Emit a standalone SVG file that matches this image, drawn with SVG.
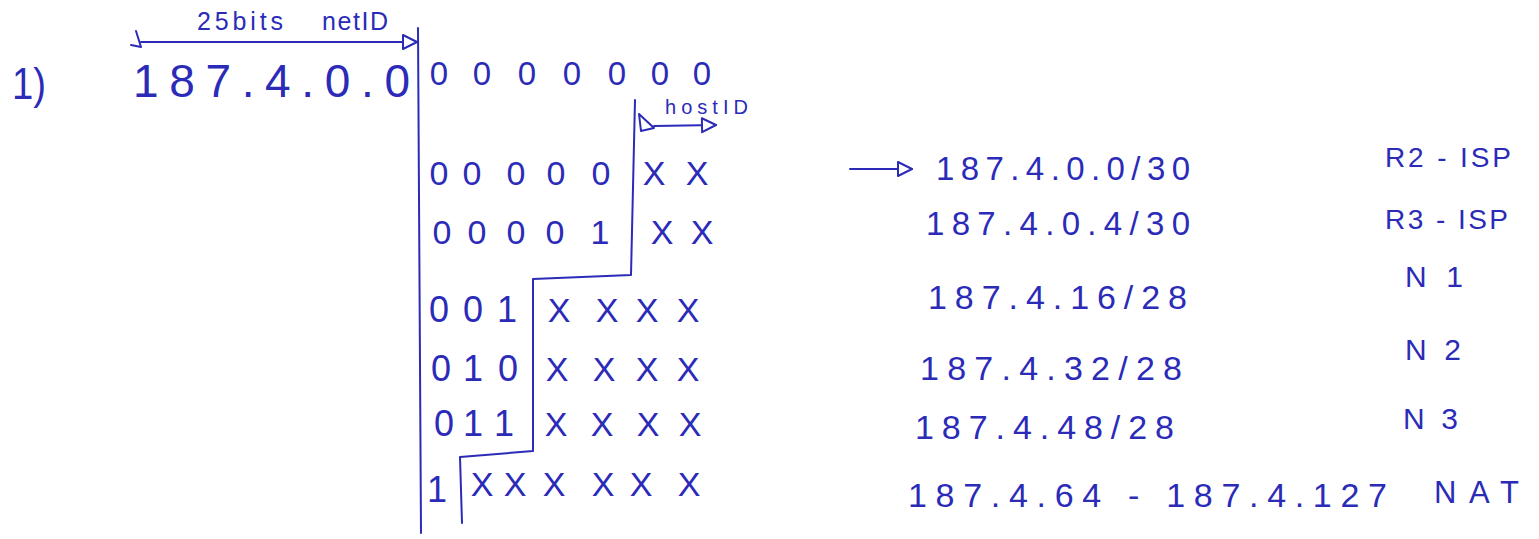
<svg xmlns="http://www.w3.org/2000/svg" width="1539" height="539" viewBox="0 0 1539 539">
<style>
.t{fill:#2b2bb8;font-family:"Liberation Sans",Arial,sans-serif}
.m{text-anchor:middle}
.ln{stroke:#2b2bb8;stroke-width:2;fill:none;stroke-linecap:round;stroke-linejoin:round}
</style>
<defs>
<marker id="tri" markerUnits="userSpaceOnUse" markerWidth="18" markerHeight="18" refX="15" refY="8" orient="auto" overflow="visible">
<path d="M1,1 L15,8 L1,15 Z" fill="#fff" stroke="#2b2bb8" stroke-width="2" stroke-linejoin="round"/>
</marker>
</defs>
<rect width="1539" height="539" fill="#fff"/>

<g id="label-1">
<text class="t" x="12" y="99" font-size="44" textLength="34" lengthAdjust="spacingAndGlyphs">1)</text>
</g>

<g id="netid-label">
<text class="t" x="197" y="30" font-size="25" textLength="86" lengthAdjust="spacing">25bits</text>
<text class="t" x="322" y="30" font-size="25" textLength="66" lengthAdjust="spacing">netID</text>
</g>

<g id="address">
<text class="t" x="133" y="97" font-size="46" textLength="277" lengthAdjust="spacing">187.4.0.0</text>
<text class="t m" x="439 482 527 572 617 660 702" y="85" font-size="33">0000000</text>
</g>

<g id="hostid-label">
<text class="t" x="665" y="114" font-size="20" textLength="83" lengthAdjust="spacing">hostID</text>
</g>

<g id="bit-table">
<text class="t m" x="439 472 516 556 601" y="185" font-size="34">00000</text>
<text class="t m" x="654 697" y="185" font-size="34">XX</text>
<text class="t m" x="442 477 516 555 600" y="244" font-size="34">00001</text>
<text class="t m" x="662 702" y="244" font-size="34">XX</text>
<text class="t m" x="439 473 507" y="322" font-size="36">001</text>
<text class="t m" x="559 607 647 688" y="322" font-size="34">XXXX</text>
<text class="t m" x="441 473 508" y="381" font-size="36">010</text>
<text class="t m" x="557 604 647 688" y="381" font-size="34">XXXX</text>
<text class="t m" x="444 473 504" y="436" font-size="36">011</text>
<text class="t m" x="556 602 648 690" y="436" font-size="34">XXXX</text>
<text class="t m" x="437" y="502" font-size="36">1</text>
<text class="t m" x="482 515 554 603 641 689" y="496" font-size="34">XXXXXX</text>
</g>

<g id="subnets">
<text class="t" x="936" y="180" font-size="33" textLength="254" lengthAdjust="spacing">187.4.0.0/30</text>
<text class="t" x="926" y="235" font-size="33" textLength="264" lengthAdjust="spacing">187.4.0.4/30</text>
<text class="t" x="928" y="309" font-size="34" textLength="259" lengthAdjust="spacing">187.4.16/28</text>
<text class="t" x="920" y="380" font-size="34" textLength="262" lengthAdjust="spacing">187.4.32/28</text>
<text class="t" x="915" y="439" font-size="34" textLength="259" lengthAdjust="spacing">187.4.48/28</text>
<text class="t" x="908" y="507" font-size="34" textLength="479" lengthAdjust="spacing">187.4.64 - 187.4.127</text>
</g>

<g id="names">
<text class="t" x="1385" y="167" font-size="28" textLength="126" lengthAdjust="spacing">R2 - ISP</text>
<text class="t" x="1385" y="229" font-size="28" textLength="123" lengthAdjust="spacing">R3 - ISP</text>
<text class="t" x="1405" y="287" font-size="30" textLength="58" lengthAdjust="spacing">N1</text>
<text class="t" x="1405" y="360" font-size="30" textLength="56" lengthAdjust="spacing">N2</text>
<text class="t" x="1403" y="429" font-size="30" textLength="55" lengthAdjust="spacing">N3</text>
<text class="t" x="1434" y="503" font-size="31" textLength="85" lengthAdjust="spacing">NAT</text>
</g>

<g id="dividers">
<path class="ln" d="M418,28 L421,533"/>
<path class="ln" d="M635,100 L631,275 L533,279 L533,451 L460,457 L462,523"/>
</g>

<g id="connectors">
<path class="ln" d="M136,31 L141,47 L131,45"/>
<path class="ln" d="M141,42 L417,42" marker-end="url(#tri)"/>
<path class="ln" d="M639,114 L641,131 L654,128 Z"/>
<path class="ln" d="M654,126 L716,125" marker-end="url(#tri)"/>
<path class="ln" d="M850,169 L912,169" marker-end="url(#tri)"/>
</g>
</svg>
